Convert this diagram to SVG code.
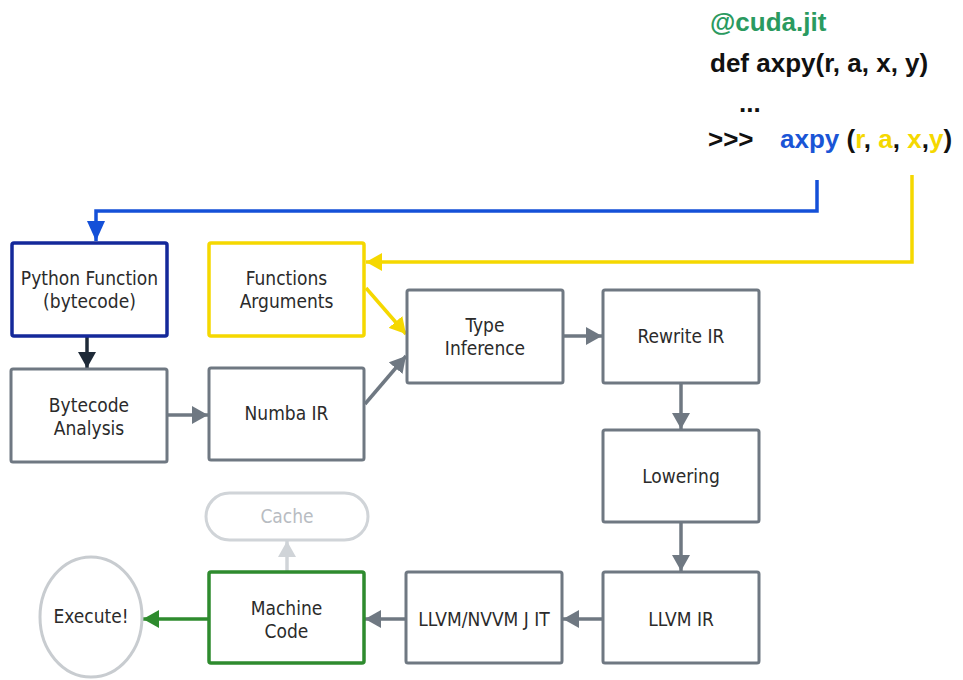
<svg xmlns="http://www.w3.org/2000/svg" width="963" height="680" viewBox="0 0 963 680">
<defs>
<style>
.box{fill:#fff;stroke:#6f7882;stroke-width:3}
.lbl{font-family:"DejaVu Sans Condensed","DejaVu Sans",sans-serif;font-stretch:condensed;font-size:19px;fill:#2b2b2b;text-anchor:middle}
.code{font-family:"Liberation Sans",Arial,sans-serif;font-weight:bold;font-size:26px;fill:#111}
.c{fill:none;stroke-width:3.5}
.g{stroke:#6f7882}
.yl{fill:#f5d800}
</style>
<marker id="ag" markerUnits="userSpaceOnUse" markerWidth="18" markerHeight="18" refX="16" refY="9" orient="auto"><path d="M0,0 L16,9 L0,18 z" fill="#6f7882"/></marker>
<marker id="ab" markerUnits="userSpaceOnUse" markerWidth="22" markerHeight="18" refX="20" refY="9" orient="auto"><path d="M0,0 L20,9 L0,18 z" fill="#1450d8"/></marker>
<marker id="ay" markerUnits="userSpaceOnUse" markerWidth="18" markerHeight="18" refX="16" refY="9" orient="auto"><path d="M0,0 L16,9 L0,18 z" fill="#f5d800"/></marker>
<marker id="ad" markerUnits="userSpaceOnUse" markerWidth="18" markerHeight="18" refX="16" refY="9" orient="auto"><path d="M0,0 L16,9 L0,18 z" fill="#1e2a38"/></marker>
<marker id="agr" markerUnits="userSpaceOnUse" markerWidth="18" markerHeight="18" refX="16" refY="9" orient="auto"><path d="M0,0 L16,9 L0,18 z" fill="#2e8b2e"/></marker>
<marker id="al" markerUnits="userSpaceOnUse" markerWidth="18" markerHeight="18" refX="16" refY="9" orient="auto"><path d="M0,0 L16,9 L0,18 z" fill="#d0d4d8"/></marker>
</defs>

<g id="code">
<text class="code" x="710" y="31" style="fill:#2a9a60">@cuda.jit</text>
<text class="code" x="710" y="72">def axpy(r, a, x, y)</text>
<text class="code" x="739" y="112">...</text>
<text class="code" x="708" y="148">&gt;&gt;&gt;</text>
<text class="code" x="780" y="148"><tspan style="fill:#1a55d6">axpy</tspan> (<tspan class="yl">r</tspan>, <tspan class="yl">a</tspan>, <tspan class="yl">x</tspan>,<tspan class="yl">y</tspan>)</text>
</g>

<g id="connectors">
<path class="c" stroke="#1450d8" d="M817,180 V211 H96 V241" marker-end="url(#ab)"/>
<path class="c" stroke="#f5d800" d="M912,175 V262 H366" marker-end="url(#ay)"/>
<path class="c" stroke="#f5d800" d="M366,288 L406,334" marker-end="url(#ay)"/>
<path class="c" stroke="#1e2a38" d="M87,337 V368" marker-end="url(#ad)"/>
<path class="c g" d="M167,415 H208" marker-end="url(#ag)"/>
<path class="c g" d="M365,404 L406,356" marker-end="url(#ag)"/>
<path class="c g" d="M563,336 H602" marker-end="url(#ag)"/>
<path class="c g" d="M681,383 V429" marker-end="url(#ag)"/>
<path class="c g" d="M681,522 V571" marker-end="url(#ag)"/>
<path class="c g" d="M603,619 H563" marker-end="url(#ag)"/>
<path class="c g" d="M406,619 H365" marker-end="url(#ag)"/>
<path class="c" stroke="#d0d4d8" d="M287,572 V541" marker-end="url(#al)"/>
<path class="c" stroke="#2e8b2e" d="M209,619 H143" marker-end="url(#agr)"/>
</g>

<g id="python-function">
<rect x="12" y="243" width="155" height="93" rx="2" fill="#fff" stroke="#14299a" stroke-width="3.5"/>
<text class="lbl" x="89.5" y="285">Python Function</text>
<text class="lbl" x="89.5" y="308">(bytecode)</text>
</g>
<g id="functions-arguments">
<rect x="209" y="243" width="155" height="93" rx="2" fill="#fff" stroke="#f5d800" stroke-width="3.5"/>
<text class="lbl" x="286.5" y="285">Functions</text>
<text class="lbl" x="286.5" y="308">Arguments</text>
</g>
<g id="bytecode-analysis">
<rect class="box" x="11" y="369" width="156" height="93" rx="2"/>
<text class="lbl" x="89" y="412">Bytecode</text>
<text class="lbl" x="89" y="435">Analysis</text>
</g>
<g id="numba-ir">
<rect class="box" x="209" y="368" width="155" height="92" rx="2"/>
<text class="lbl" x="286.5" y="420">Numba IR</text>
</g>
<g id="type-inference">
<rect class="box" x="407" y="290" width="156" height="93" rx="2"/>
<text class="lbl" x="485" y="332">Type</text>
<text class="lbl" x="485" y="355">Inference</text>
</g>
<g id="rewrite-ir">
<rect class="box" x="603" y="290" width="156" height="93" rx="2"/>
<text class="lbl" x="681" y="343">Rewrite IR</text>
</g>
<g id="lowering">
<rect class="box" x="603" y="430" width="156" height="92" rx="2"/>
<text class="lbl" x="681" y="483">Lowering</text>
</g>
<g id="llvm-ir">
<rect class="box" x="603" y="572" width="156" height="91" rx="2"/>
<text class="lbl" x="681" y="626">LLVM IR</text>
</g>
<g id="llvm-nvvm-jit">
<rect class="box" x="406" y="572" width="156" height="91" rx="2"/>
<text class="lbl" x="484" y="626">LLVM/NVVM J IT</text>
</g>
<g id="machine-code">
<rect x="209" y="572" width="155" height="91" rx="2" fill="#fff" stroke="#2e8b2e" stroke-width="3.5"/>
<text class="lbl" x="286.5" y="615">Machine</text>
<text class="lbl" x="286.5" y="638">Code</text>
</g>
<g id="cache">
<rect x="206" y="493" width="162" height="47" rx="23.5" fill="#fff" stroke="#d0d4d8" stroke-width="3"/>
<text class="lbl" x="287" y="523" style="fill:#b8bcc2">Cache</text>
</g>
<g id="execute">
<ellipse cx="91" cy="617" rx="51" ry="60" fill="#fff" stroke="#c8ccd0" stroke-width="3"/>
<text class="lbl" x="91" y="623">Execute!</text>
</g>
</svg>
